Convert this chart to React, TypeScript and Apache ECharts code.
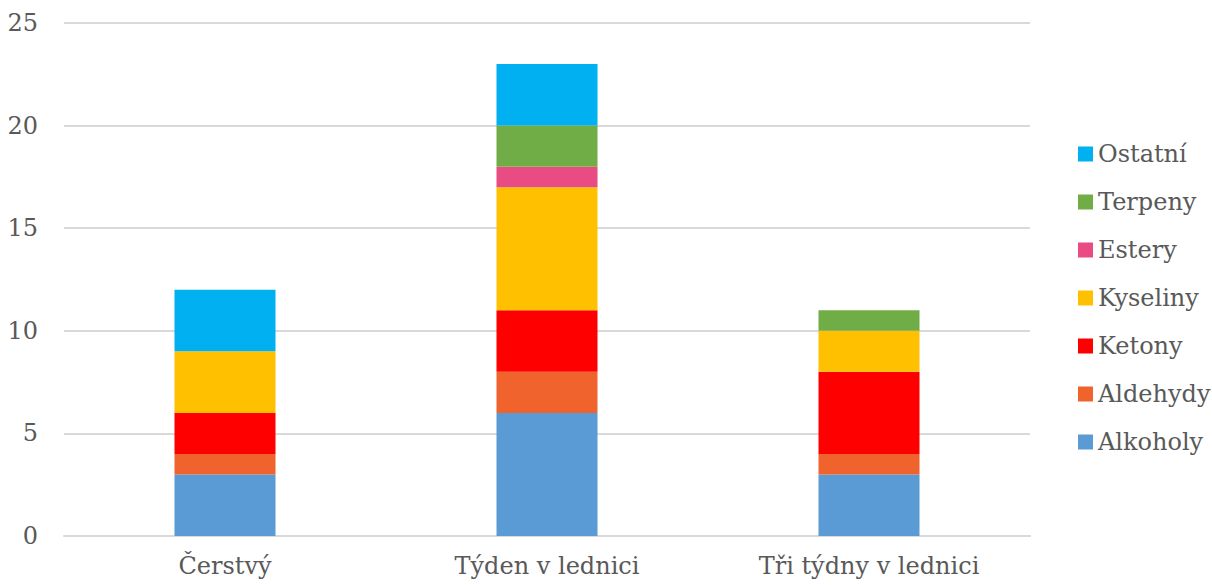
import React, { useEffect, useRef } from "react";
import * as echarts from "echarts";

const categories = ["Čerstvý", "Týden v lednici", "Tři týdny v lednici"];
const seriesNames = ["Alkoholy", "Aldehydy", "Ketony", "Kyseliny", "Estery", "Terpeny", "Ostatní"];
const alkoholy = [3, 6, 3];
const aldehydy = [1, 2, 1];
const ketony = [2, 3, 4];
const kyseliny = [3, 6, 2];
const estery = [0, 1, 0];
const terpeny = [0, 2, 1];
const ostatni = [3, 3, 0];
const colors = ["#5B9BD5", "#F0632D", "#FF0000", "#FFC000", "#E84C82", "#70AD47", "#00B0F0"];

const FONT = "DejaVu Serif";
const FS = 24;

export default function App() {
  const ref = useRef<HTMLDivElement>(null);
  useEffect(() => {
    if (!ref.current) return;
    const chart = echarts.init(ref.current, null, { renderer: "svg" });
    const values = [alkoholy, aldehydy, ketony, kyseliny, estery, terpeny, ostatni];
    chart.setOption({
      animation: false,
      textStyle: { fontFamily: FONT },
      grid: { left: 64, right: 182, top: 23, bottom: 49, containLabel: false },
      legend: {
        orient: "vertical",
        left: 1073,
        top: 137,
        itemWidth: 15,
        itemHeight: 15,
        itemGap: 24,
        icon: "rect",
        data: [...seriesNames].reverse(),
        textStyle: { fontFamily: FONT, fontSize: FS, color: "#595959", lineHeight: 24 },
      },
      xAxis: {
        type: "category",
        data: categories,
        axisLine: { lineStyle: { color: "#D9D9D9", width: 2 } },
        axisTick: { show: false },
        axisLabel: { fontFamily: FONT, fontSize: FS, color: "#595959", margin: 18 },
      },
      yAxis: {
        type: "value",
        min: 0,
        max: 25,
        interval: 5,
        axisLine: { show: false },
        axisTick: { show: false },
        splitLine: { lineStyle: { color: "#D9D9D9", width: 2 } },
        axisLabel: { fontFamily: FONT, fontSize: FS, color: "#595959", margin: 26 },
      },
      series: seriesNames.map((name, i) => ({
        name,
        type: "bar",
        stack: "total",
        barWidth: 101,
        data: values[i],
        itemStyle: { color: colors[i] },
      })),
    });
    return () => chart.dispose();
  }, []);
  return <div ref={ref} style={{ width: 1212, height: 585, position: "absolute", left: 0, top: 0 }} />;
}
